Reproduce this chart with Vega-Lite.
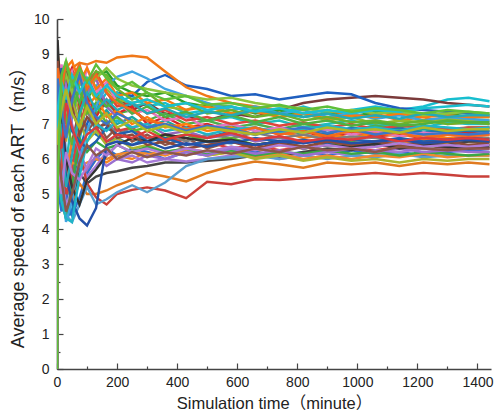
{"$schema":"https://vega.github.io/schema/vega-lite/v6.json","width":434,"height":350,"autosize":{"type":"none"},"padding":{"left":57,"top":19,"right":4,"bottom":49},
"config":{"view":{"stroke":null},"font":"Liberation Sans","axis":{"grid":false,"domainColor":"#444444","domainWidth":1.6,"tickColor":"#444444","tickWidth":1.2,"labelFontSize":14,"labelColor":"#222222","titleColor":"#222222","titleFontSize":16.5,"titleFontWeight":"normal","titleFont":"Liberation Sans, Noto Sans CJK SC","labelFont":"Liberation Sans","labelFlush":false,"labelOverlap":false,"format":"d"}},
"data":{"values":[
{"s":1,"t":0,"v":0},{"s":1,"t":2,"v":6.2},{"s":1,"t":15,"v":5.0},{"s":1,"t":30,"v":4.3},{"s":1,"t":50,"v":4.5},{"s":1,"t":75,"v":6.5},{"s":1,"t":100,"v":7.8},{"s":1,"t":130,"v":7.4},{"s":1,"t":165,"v":7.9},{"s":1,"t":200,"v":7.6},{"s":1,"t":250,"v":7.8},{"s":1,"t":300,"v":7.5},{"s":1,"t":360,"v":7.6},{"s":1,"t":430,"v":7.3},{"s":1,"t":500,"v":7.4},{"s":1,"t":580,"v":7.2},{"s":1,"t":660,"v":7.4},{"s":1,"t":740,"v":7.3},{"s":1,"t":820,"v":7.5},{"s":1,"t":900,"v":7.3},{"s":1,"t":980,"v":7.4},{"s":1,"t":1060,"v":7.5},{"s":1,"t":1140,"v":7.4},{"s":1,"t":1220,"v":7.5},{"s":1,"t":1300,"v":7.7},{"s":1,"t":1370,"v":7.75},{"s":1,"t":1440,"v":7.65},
{"s":2,"t":0,"v":0},{"s":2,"t":2,"v":8.0},{"s":2,"t":15,"v":8.6},{"s":2,"t":30,"v":7.8},{"s":2,"t":50,"v":8.5},{"s":2,"t":75,"v":7.6},{"s":2,"t":100,"v":8.2},{"s":2,"t":130,"v":7.9},{"s":2,"t":165,"v":7.6},{"s":2,"t":200,"v":7.8},{"s":2,"t":250,"v":7.4},{"s":2,"t":300,"v":7.6},{"s":2,"t":360,"v":7.3},{"s":2,"t":430,"v":7.2},{"s":2,"t":500,"v":7.1},{"s":2,"t":580,"v":7.3},{"s":2,"t":660,"v":7.2},{"s":2,"t":740,"v":7.4},{"s":2,"t":820,"v":7.6},{"s":2,"t":900,"v":7.7},{"s":2,"t":980,"v":7.75},{"s":2,"t":1060,"v":7.8},{"s":2,"t":1140,"v":7.75},{"s":2,"t":1220,"v":7.7},{"s":2,"t":1300,"v":7.6},{"s":2,"t":1370,"v":7.55},{"s":2,"t":1440,"v":7.5},
{"s":3,"t":0,"v":0},{"s":3,"t":2,"v":7.0},{"s":3,"t":15,"v":8.3},{"s":3,"t":30,"v":6.0},{"s":3,"t":50,"v":5.0},{"s":3,"t":75,"v":6.2},{"s":3,"t":100,"v":7.0},{"s":3,"t":130,"v":7.6},{"s":3,"t":165,"v":7.5},{"s":3,"t":200,"v":7.9},{"s":3,"t":250,"v":7.8},{"s":3,"t":300,"v":8.2},{"s":3,"t":360,"v":8.4},{"s":3,"t":430,"v":8.1},{"s":3,"t":500,"v":8.0},{"s":3,"t":580,"v":7.8},{"s":3,"t":660,"v":7.85},{"s":3,"t":740,"v":7.7},{"s":3,"t":820,"v":7.8},{"s":3,"t":900,"v":7.9},{"s":3,"t":980,"v":7.85},{"s":3,"t":1060,"v":7.6},{"s":3,"t":1140,"v":7.45},{"s":3,"t":1220,"v":7.4},{"s":3,"t":1300,"v":7.35},{"s":3,"t":1370,"v":7.3},{"s":3,"t":1440,"v":7.25},
{"s":4,"t":0,"v":0},{"s":4,"t":2,"v":7.5},{"s":4,"t":15,"v":8.3},{"s":4,"t":30,"v":8.0},{"s":4,"t":50,"v":8.6},{"s":4,"t":75,"v":8.75},{"s":4,"t":100,"v":8.7},{"s":4,"t":130,"v":8.8},{"s":4,"t":165,"v":8.75},{"s":4,"t":200,"v":8.9},{"s":4,"t":250,"v":8.95},{"s":4,"t":300,"v":8.9},{"s":4,"t":360,"v":8.5},{"s":4,"t":430,"v":8.05},{"s":4,"t":500,"v":7.8},{"s":4,"t":580,"v":7.6},{"s":4,"t":660,"v":7.5},{"s":4,"t":740,"v":7.4},{"s":4,"t":820,"v":7.3},{"s":4,"t":900,"v":7.4},{"s":4,"t":980,"v":7.2},{"s":4,"t":1060,"v":7.3},{"s":4,"t":1140,"v":7.1},{"s":4,"t":1220,"v":7.2},{"s":4,"t":1300,"v":7.0},{"s":4,"t":1370,"v":7.05},{"s":4,"t":1440,"v":7.0},
{"s":5,"t":0,"v":0},{"s":5,"t":2,"v":8.1},{"s":5,"t":15,"v":7.5},{"s":5,"t":30,"v":8.3},{"s":5,"t":50,"v":7.2},{"s":5,"t":75,"v":8.0},{"s":5,"t":100,"v":7.6},{"s":5,"t":130,"v":8.4},{"s":5,"t":165,"v":8.5},{"s":5,"t":200,"v":8.1},{"s":5,"t":250,"v":7.9},{"s":5,"t":300,"v":7.8},{"s":5,"t":360,"v":7.9},{"s":5,"t":430,"v":7.6},{"s":5,"t":500,"v":7.5},{"s":5,"t":580,"v":7.5},{"s":5,"t":660,"v":7.3},{"s":5,"t":740,"v":7.4},{"s":5,"t":820,"v":7.2},{"s":5,"t":900,"v":7.3},{"s":5,"t":980,"v":7.2},{"s":5,"t":1060,"v":7.35},{"s":5,"t":1140,"v":7.3},{"s":5,"t":1220,"v":7.25},{"s":5,"t":1300,"v":7.3},{"s":5,"t":1370,"v":7.2},{"s":5,"t":1440,"v":7.2},
{"s":6,"t":0,"v":0},{"s":6,"t":2,"v":6.8},{"s":6,"t":15,"v":7.9},{"s":6,"t":30,"v":8.5},{"s":6,"t":50,"v":8.0},{"s":6,"t":75,"v":7.3},{"s":6,"t":100,"v":8.1},{"s":6,"t":130,"v":7.7},{"s":6,"t":165,"v":8.0},{"s":6,"t":200,"v":7.7},{"s":6,"t":250,"v":7.6},{"s":6,"t":300,"v":7.7},{"s":6,"t":360,"v":7.5},{"s":6,"t":430,"v":7.4},{"s":6,"t":500,"v":7.6},{"s":6,"t":580,"v":7.3},{"s":6,"t":660,"v":7.4},{"s":6,"t":740,"v":7.2},{"s":6,"t":820,"v":7.3},{"s":6,"t":900,"v":7.1},{"s":6,"t":980,"v":7.2},{"s":6,"t":1060,"v":7.0},{"s":6,"t":1140,"v":7.1},{"s":6,"t":1220,"v":7.05},{"s":6,"t":1300,"v":7.15},{"s":6,"t":1370,"v":7.1},{"s":6,"t":1440,"v":7.1},
{"s":7,"t":0,"v":0},{"s":7,"t":2,"v":5.5},{"s":7,"t":15,"v":4.6},{"s":7,"t":30,"v":5.8},{"s":7,"t":50,"v":7.2},{"s":7,"t":75,"v":8.2},{"s":7,"t":100,"v":7.8},{"s":7,"t":130,"v":8.1},{"s":7,"t":165,"v":7.6},{"s":7,"t":200,"v":7.9},{"s":7,"t":250,"v":7.5},{"s":7,"t":300,"v":7.6},{"s":7,"t":360,"v":7.2},{"s":7,"t":430,"v":7.3},{"s":7,"t":500,"v":7.1},{"s":7,"t":580,"v":7.2},{"s":7,"t":660,"v":7.0},{"s":7,"t":740,"v":7.1},{"s":7,"t":820,"v":6.9},{"s":7,"t":900,"v":7.0},{"s":7,"t":980,"v":7.1},{"s":7,"t":1060,"v":6.95},{"s":7,"t":1140,"v":7.0},{"s":7,"t":1220,"v":6.9},{"s":7,"t":1300,"v":7.05},{"s":7,"t":1370,"v":7.0},{"s":7,"t":1440,"v":7.0},
{"s":8,"t":0,"v":0},{"s":8,"t":2,"v":6.0},{"s":8,"t":15,"v":7.2},{"s":8,"t":30,"v":8.4},{"s":8,"t":50,"v":7.6},{"s":8,"t":75,"v":8.3},{"s":8,"t":100,"v":7.9},{"s":8,"t":130,"v":7.3},{"s":8,"t":165,"v":7.6},{"s":8,"t":200,"v":7.3},{"s":8,"t":250,"v":7.4},{"s":8,"t":300,"v":7.1},{"s":8,"t":360,"v":7.3},{"s":8,"t":430,"v":7.0},{"s":8,"t":500,"v":7.1},{"s":8,"t":580,"v":6.9},{"s":8,"t":660,"v":7.0},{"s":8,"t":740,"v":6.85},{"s":8,"t":820,"v":7.0},{"s":8,"t":900,"v":6.9},{"s":8,"t":980,"v":6.8},{"s":8,"t":1060,"v":6.95},{"s":8,"t":1140,"v":6.85},{"s":8,"t":1220,"v":6.9},{"s":8,"t":1300,"v":6.8},{"s":8,"t":1370,"v":6.9},{"s":8,"t":1440,"v":6.9},
{"s":9,"t":0,"v":0},{"s":9,"t":2,"v":7.2},{"s":9,"t":15,"v":6.0},{"s":9,"t":30,"v":4.8},{"s":9,"t":50,"v":5.5},{"s":9,"t":75,"v":6.8},{"s":9,"t":100,"v":7.5},{"s":9,"t":130,"v":7.1},{"s":9,"t":165,"v":7.4},{"s":9,"t":200,"v":7.0},{"s":9,"t":250,"v":7.2},{"s":9,"t":300,"v":6.9},{"s":9,"t":360,"v":7.1},{"s":9,"t":430,"v":6.8},{"s":9,"t":500,"v":6.9},{"s":9,"t":580,"v":7.0},{"s":9,"t":660,"v":6.8},{"s":9,"t":740,"v":6.9},{"s":9,"t":820,"v":6.7},{"s":9,"t":900,"v":6.85},{"s":9,"t":980,"v":6.75},{"s":9,"t":1060,"v":6.8},{"s":9,"t":1140,"v":6.7},{"s":9,"t":1220,"v":6.85},{"s":9,"t":1300,"v":6.75},{"s":9,"t":1370,"v":6.8},{"s":9,"t":1440,"v":6.8},
{"s":10,"t":0,"v":0},{"s":10,"t":2,"v":8.5},{"s":10,"t":15,"v":7.6},{"s":10,"t":30,"v":8.2},{"s":10,"t":50,"v":8.6},{"s":10,"t":75,"v":7.5},{"s":10,"t":100,"v":7.9},{"s":10,"t":130,"v":7.2},{"s":10,"t":165,"v":7.7},{"s":10,"t":200,"v":7.3},{"s":10,"t":250,"v":7.5},{"s":10,"t":300,"v":7.0},{"s":10,"t":360,"v":7.2},{"s":10,"t":430,"v":6.9},{"s":10,"t":500,"v":7.0},{"s":10,"t":580,"v":6.8},{"s":10,"t":660,"v":6.9},{"s":10,"t":740,"v":6.7},{"s":10,"t":820,"v":6.8},{"s":10,"t":900,"v":6.6},{"s":10,"t":980,"v":6.75},{"s":10,"t":1060,"v":6.65},{"s":10,"t":1140,"v":6.7},{"s":10,"t":1220,"v":6.6},{"s":10,"t":1300,"v":6.7},{"s":10,"t":1370,"v":6.75},{"s":10,"t":1440,"v":6.7},
{"s":11,"t":0,"v":0},{"s":11,"t":2,"v":9.0},{"s":11,"t":15,"v":8.2},{"s":11,"t":30,"v":8.7},{"s":11,"t":50,"v":7.8},{"s":11,"t":75,"v":8.4},{"s":11,"t":100,"v":7.5},{"s":11,"t":130,"v":7.8},{"s":11,"t":165,"v":7.2},{"s":11,"t":200,"v":7.4},{"s":11,"t":250,"v":7.0},{"s":11,"t":300,"v":7.2},{"s":11,"t":360,"v":6.9},{"s":11,"t":430,"v":7.0},{"s":11,"t":500,"v":6.8},{"s":11,"t":580,"v":6.9},{"s":11,"t":660,"v":6.7},{"s":11,"t":740,"v":6.8},{"s":11,"t":820,"v":6.6},{"s":11,"t":900,"v":6.7},{"s":11,"t":980,"v":6.6},{"s":11,"t":1060,"v":6.75},{"s":11,"t":1140,"v":6.65},{"s":11,"t":1220,"v":6.7},{"s":11,"t":1300,"v":6.6},{"s":11,"t":1370,"v":6.65},{"s":11,"t":1440,"v":6.6},
{"s":12,"t":0,"v":0},{"s":12,"t":2,"v":6.5},{"s":12,"t":15,"v":5.2},{"s":12,"t":30,"v":4.5},{"s":12,"t":50,"v":4.4},{"s":12,"t":75,"v":5.8},{"s":12,"t":100,"v":6.9},{"s":12,"t":130,"v":6.7},{"s":12,"t":165,"v":6.5},{"s":12,"t":200,"v":6.6},{"s":12,"t":250,"v":6.4},{"s":12,"t":300,"v":6.6},{"s":12,"t":360,"v":6.5},{"s":12,"t":430,"v":6.7},{"s":12,"t":500,"v":6.6},{"s":12,"t":580,"v":6.8},{"s":12,"t":660,"v":6.7},{"s":12,"t":740,"v":6.9},{"s":12,"t":820,"v":6.8},{"s":12,"t":900,"v":6.7},{"s":12,"t":980,"v":6.9},{"s":12,"t":1060,"v":6.8},{"s":12,"t":1140,"v":6.9},{"s":12,"t":1220,"v":6.75},{"s":12,"t":1300,"v":6.85},{"s":12,"t":1370,"v":6.8},{"s":12,"t":1440,"v":6.8},
{"s":13,"t":0,"v":0},{"s":13,"t":2,"v":7.8},{"s":13,"t":15,"v":8.5},{"s":13,"t":30,"v":7.5},{"s":13,"t":50,"v":8.3},{"s":13,"t":75,"v":8.6},{"s":13,"t":100,"v":7.9},{"s":13,"t":130,"v":8.3},{"s":13,"t":165,"v":7.5},{"s":13,"t":200,"v":7.2},{"s":13,"t":250,"v":6.9},{"s":13,"t":300,"v":7.0},{"s":13,"t":360,"v":6.7},{"s":13,"t":430,"v":6.8},{"s":13,"t":500,"v":6.6},{"s":13,"t":580,"v":6.7},{"s":13,"t":660,"v":6.5},{"s":13,"t":740,"v":6.6},{"s":13,"t":820,"v":6.45},{"s":13,"t":900,"v":6.55},{"s":13,"t":980,"v":6.4},{"s":13,"t":1060,"v":6.5},{"s":13,"t":1140,"v":6.45},{"s":13,"t":1220,"v":6.55},{"s":13,"t":1300,"v":6.45},{"s":13,"t":1370,"v":6.5},{"s":13,"t":1440,"v":6.5},
{"s":14,"t":0,"v":0},{"s":14,"t":2,"v":7.0},{"s":14,"t":15,"v":6.2},{"s":14,"t":30,"v":5.3},{"s":14,"t":50,"v":6.5},{"s":14,"t":75,"v":7.4},{"s":14,"t":100,"v":6.8},{"s":14,"t":130,"v":7.1},{"s":14,"t":165,"v":6.6},{"s":14,"t":200,"v":6.9},{"s":14,"t":250,"v":6.5},{"s":14,"t":300,"v":6.7},{"s":14,"t":360,"v":6.4},{"s":14,"t":430,"v":6.6},{"s":14,"t":500,"v":6.3},{"s":14,"t":580,"v":6.5},{"s":14,"t":660,"v":6.4},{"s":14,"t":740,"v":6.5},{"s":14,"t":820,"v":6.35},{"s":14,"t":900,"v":6.45},{"s":14,"t":980,"v":6.3},{"s":14,"t":1060,"v":6.4},{"s":14,"t":1140,"v":6.35},{"s":14,"t":1220,"v":6.4},{"s":14,"t":1300,"v":6.3},{"s":14,"t":1370,"v":6.4},{"s":14,"t":1440,"v":6.4},
{"s":15,"t":0,"v":0},{"s":15,"t":2,"v":7.6},{"s":15,"t":15,"v":8.0},{"s":15,"t":30,"v":7.0},{"s":15,"t":50,"v":7.8},{"s":15,"t":75,"v":7.0},{"s":15,"t":100,"v":7.4},{"s":15,"t":130,"v":6.8},{"s":15,"t":165,"v":7.1},{"s":15,"t":200,"v":6.7},{"s":15,"t":250,"v":6.9},{"s":15,"t":300,"v":6.5},{"s":15,"t":360,"v":6.7},{"s":15,"t":430,"v":6.5},{"s":15,"t":500,"v":6.7},{"s":15,"t":580,"v":6.6},{"s":15,"t":660,"v":6.75},{"s":15,"t":740,"v":6.6},{"s":15,"t":820,"v":6.7},{"s":15,"t":900,"v":6.55},{"s":15,"t":980,"v":6.65},{"s":15,"t":1060,"v":6.6},{"s":15,"t":1140,"v":6.5},{"s":15,"t":1220,"v":6.6},{"s":15,"t":1300,"v":6.55},{"s":15,"t":1370,"v":6.6},{"s":15,"t":1440,"v":6.6},
{"s":16,"t":0,"v":0},{"s":16,"t":2,"v":8.2},{"s":16,"t":15,"v":8.7},{"s":16,"t":30,"v":8.0},{"s":16,"t":50,"v":8.5},{"s":16,"t":75,"v":7.7},{"s":16,"t":100,"v":8.6},{"s":16,"t":130,"v":7.9},{"s":16,"t":165,"v":8.2},{"s":16,"t":200,"v":7.6},{"s":16,"t":250,"v":7.3},{"s":16,"t":300,"v":7.4},{"s":16,"t":360,"v":7.1},{"s":16,"t":430,"v":7.2},{"s":16,"t":500,"v":6.9},{"s":16,"t":580,"v":7.0},{"s":16,"t":660,"v":6.8},{"s":16,"t":740,"v":6.9},{"s":16,"t":820,"v":6.75},{"s":16,"t":900,"v":6.85},{"s":16,"t":980,"v":6.7},{"s":16,"t":1060,"v":6.8},{"s":16,"t":1140,"v":6.65},{"s":16,"t":1220,"v":6.75},{"s":16,"t":1300,"v":6.7},{"s":16,"t":1370,"v":6.65},{"s":16,"t":1440,"v":6.7},
{"s":17,"t":0,"v":0},{"s":17,"t":2,"v":5.8},{"s":17,"t":15,"v":4.9},{"s":17,"t":30,"v":5.6},{"s":17,"t":50,"v":6.5},{"s":17,"t":75,"v":6.0},{"s":17,"t":100,"v":5.6},{"s":17,"t":130,"v":6.0},{"s":17,"t":165,"v":5.9},{"s":17,"t":200,"v":6.1},{"s":17,"t":250,"v":6.0},{"s":17,"t":300,"v":6.2},{"s":17,"t":360,"v":6.1},{"s":17,"t":430,"v":6.3},{"s":17,"t":500,"v":6.2},{"s":17,"t":580,"v":6.35},{"s":17,"t":660,"v":6.2},{"s":17,"t":740,"v":6.4},{"s":17,"t":820,"v":6.3},{"s":17,"t":900,"v":6.45},{"s":17,"t":980,"v":6.35},{"s":17,"t":1060,"v":6.5},{"s":17,"t":1140,"v":6.4},{"s":17,"t":1220,"v":6.55},{"s":17,"t":1300,"v":6.45},{"s":17,"t":1370,"v":6.5},{"s":17,"t":1440,"v":6.5},
{"s":18,"t":0,"v":0},{"s":18,"t":2,"v":6.8},{"s":18,"t":15,"v":5.5},{"s":18,"t":30,"v":4.9},{"s":18,"t":50,"v":5.8},{"s":18,"t":75,"v":6.9},{"s":18,"t":100,"v":7.7},{"s":18,"t":130,"v":7.0},{"s":18,"t":165,"v":7.3},{"s":18,"t":200,"v":6.8},{"s":18,"t":250,"v":6.9},{"s":18,"t":300,"v":6.6},{"s":18,"t":360,"v":6.7},{"s":18,"t":430,"v":6.4},{"s":18,"t":500,"v":6.5},{"s":18,"t":580,"v":6.3},{"s":18,"t":660,"v":6.4},{"s":18,"t":740,"v":6.25},{"s":18,"t":820,"v":6.35},{"s":18,"t":900,"v":6.2},{"s":18,"t":980,"v":6.3},{"s":18,"t":1060,"v":6.25},{"s":18,"t":1140,"v":6.35},{"s":18,"t":1220,"v":6.3},{"s":18,"t":1300,"v":6.25},{"s":18,"t":1370,"v":6.3},{"s":18,"t":1440,"v":6.3},
{"s":19,"t":0,"v":0},{"s":19,"t":2,"v":5.2},{"s":19,"t":15,"v":4.5},{"s":19,"t":30,"v":5.0},{"s":19,"t":50,"v":4.4},{"s":19,"t":75,"v":4.9},{"s":19,"t":100,"v":5.6},{"s":19,"t":130,"v":6.0},{"s":19,"t":165,"v":6.3},{"s":19,"t":200,"v":6.1},{"s":19,"t":250,"v":6.3},{"s":19,"t":300,"v":6.2},{"s":19,"t":360,"v":6.0},{"s":19,"t":430,"v":6.2},{"s":19,"t":500,"v":6.1},{"s":19,"t":580,"v":6.3},{"s":19,"t":660,"v":6.2},{"s":19,"t":740,"v":6.1},{"s":19,"t":820,"v":6.2},{"s":19,"t":900,"v":6.1},{"s":19,"t":980,"v":6.25},{"s":19,"t":1060,"v":6.15},{"s":19,"t":1140,"v":6.2},{"s":19,"t":1220,"v":6.1},{"s":19,"t":1300,"v":6.2},{"s":19,"t":1370,"v":6.25},{"s":19,"t":1440,"v":6.2},
{"s":20,"t":0,"v":0},{"s":20,"t":2,"v":7.4},{"s":20,"t":15,"v":8.1},{"s":20,"t":30,"v":8.6},{"s":20,"t":50,"v":7.4},{"s":20,"t":75,"v":8.0},{"s":20,"t":100,"v":7.3},{"s":20,"t":130,"v":7.6},{"s":20,"t":165,"v":7.0},{"s":20,"t":200,"v":7.2},{"s":20,"t":250,"v":6.8},{"s":20,"t":300,"v":6.9},{"s":20,"t":360,"v":6.6},{"s":20,"t":430,"v":6.7},{"s":20,"t":500,"v":6.5},{"s":20,"t":580,"v":6.6},{"s":20,"t":660,"v":6.4},{"s":20,"t":740,"v":6.5},{"s":20,"t":820,"v":6.3},{"s":20,"t":900,"v":6.4},{"s":20,"t":980,"v":6.5},{"s":20,"t":1060,"v":6.35},{"s":20,"t":1140,"v":6.45},{"s":20,"t":1220,"v":6.35},{"s":20,"t":1300,"v":6.4},{"s":20,"t":1370,"v":6.35},{"s":20,"t":1440,"v":6.4},
{"s":21,"t":0,"v":0},{"s":21,"t":2,"v":6.0},{"s":21,"t":15,"v":5.0},{"s":21,"t":30,"v":4.6},{"s":21,"t":50,"v":4.9},{"s":21,"t":75,"v":5.6},{"s":21,"t":100,"v":5.3},{"s":21,"t":130,"v":5.5},{"s":21,"t":165,"v":5.6},{"s":21,"t":200,"v":5.65},{"s":21,"t":250,"v":5.75},{"s":21,"t":300,"v":5.8},{"s":21,"t":360,"v":5.9},{"s":21,"t":430,"v":5.9},{"s":21,"t":500,"v":5.95},{"s":21,"t":580,"v":6.0},{"s":21,"t":660,"v":6.1},{"s":21,"t":740,"v":6.05},{"s":21,"t":820,"v":6.2},{"s":21,"t":900,"v":6.3},{"s":21,"t":980,"v":6.25},{"s":21,"t":1060,"v":6.4},{"s":21,"t":1140,"v":6.35},{"s":21,"t":1220,"v":6.45},{"s":21,"t":1300,"v":6.4},{"s":21,"t":1370,"v":6.5},{"s":21,"t":1440,"v":6.5},
{"s":22,"t":0,"v":0},{"s":22,"t":2,"v":6.3},{"s":22,"t":15,"v":5.6},{"s":22,"t":30,"v":4.7},{"s":22,"t":50,"v":5.1},{"s":22,"t":75,"v":5.9},{"s":22,"t":100,"v":5.5},{"s":22,"t":130,"v":5.8},{"s":22,"t":165,"v":6.2},{"s":22,"t":200,"v":6.0},{"s":22,"t":250,"v":6.1},{"s":22,"t":300,"v":5.9},{"s":22,"t":360,"v":6.0},{"s":22,"t":430,"v":5.93},{"s":22,"t":500,"v":6.0},{"s":22,"t":580,"v":6.1},{"s":22,"t":660,"v":6.15},{"s":22,"t":740,"v":6.0},{"s":22,"t":820,"v":6.1},{"s":22,"t":900,"v":6.2},{"s":22,"t":980,"v":6.1},{"s":22,"t":1060,"v":6.25},{"s":22,"t":1140,"v":6.2},{"s":22,"t":1220,"v":6.3},{"s":22,"t":1300,"v":6.25},{"s":22,"t":1370,"v":6.3},{"s":22,"t":1440,"v":6.3},
{"s":23,"t":0,"v":0},{"s":23,"t":2,"v":5.5},{"s":23,"t":15,"v":6.3},{"s":23,"t":30,"v":5.4},{"s":23,"t":50,"v":4.8},{"s":23,"t":75,"v":5.3},{"s":23,"t":100,"v":5.0},{"s":23,"t":130,"v":5.0},{"s":23,"t":165,"v":5.1},{"s":23,"t":200,"v":5.25},{"s":23,"t":250,"v":5.4},{"s":23,"t":300,"v":5.6},{"s":23,"t":360,"v":5.5},{"s":23,"t":430,"v":5.36},{"s":23,"t":500,"v":5.6},{"s":23,"t":580,"v":5.8},{"s":23,"t":660,"v":5.93},{"s":23,"t":740,"v":5.85},{"s":23,"t":820,"v":5.75},{"s":23,"t":900,"v":5.9},{"s":23,"t":980,"v":5.85},{"s":23,"t":1060,"v":5.9},{"s":23,"t":1140,"v":5.8},{"s":23,"t":1220,"v":5.9},{"s":23,"t":1300,"v":5.85},{"s":23,"t":1370,"v":5.9},{"s":23,"t":1440,"v":5.85},
{"s":24,"t":0,"v":0},{"s":24,"t":2,"v":7.2},{"s":24,"t":15,"v":6.0},{"s":24,"t":30,"v":5.0},{"s":24,"t":50,"v":5.5},{"s":24,"t":75,"v":6.2},{"s":24,"t":100,"v":5.3},{"s":24,"t":130,"v":4.9},{"s":24,"t":165,"v":4.7},{"s":24,"t":200,"v":5.0},{"s":24,"t":250,"v":5.12},{"s":24,"t":300,"v":5.19},{"s":24,"t":360,"v":5.1},{"s":24,"t":430,"v":4.88},{"s":24,"t":500,"v":5.35},{"s":24,"t":580,"v":5.28},{"s":24,"t":660,"v":5.42},{"s":24,"t":740,"v":5.4},{"s":24,"t":820,"v":5.45},{"s":24,"t":900,"v":5.5},{"s":24,"t":980,"v":5.55},{"s":24,"t":1060,"v":5.6},{"s":24,"t":1140,"v":5.55},{"s":24,"t":1220,"v":5.6},{"s":24,"t":1300,"v":5.55},{"s":24,"t":1370,"v":5.5},{"s":24,"t":1440,"v":5.5},
{"s":25,"t":0,"v":0},{"s":25,"t":2,"v":6.4},{"s":25,"t":15,"v":5.3},{"s":25,"t":30,"v":4.4},{"s":25,"t":50,"v":4.2},{"s":25,"t":75,"v":4.7},{"s":25,"t":100,"v":5.2},{"s":25,"t":130,"v":4.7},{"s":25,"t":165,"v":4.85},{"s":25,"t":200,"v":5.05},{"s":25,"t":250,"v":5.25},{"s":25,"t":300,"v":5.05},{"s":25,"t":360,"v":5.33},{"s":25,"t":430,"v":5.8},{"s":25,"t":500,"v":6.0},{"s":25,"t":580,"v":6.05},{"s":25,"t":660,"v":6.1},{"s":25,"t":740,"v":6.0},{"s":25,"t":820,"v":6.1},{"s":25,"t":900,"v":6.0},{"s":25,"t":980,"v":6.1},{"s":25,"t":1060,"v":6.05},{"s":25,"t":1140,"v":6.15},{"s":25,"t":1220,"v":6.05},{"s":25,"t":1300,"v":6.1},{"s":25,"t":1370,"v":6.1},{"s":25,"t":1440,"v":6.1},
{"s":26,"t":0,"v":0},{"s":26,"t":2,"v":6.6},{"s":26,"t":15,"v":7.5},{"s":26,"t":30,"v":5.5},{"s":26,"t":50,"v":5.9},{"s":26,"t":75,"v":5.8},{"s":26,"t":100,"v":5.9},{"s":26,"t":130,"v":6.0},{"s":26,"t":165,"v":6.0},{"s":26,"t":200,"v":6.13},{"s":26,"t":250,"v":6.2},{"s":26,"t":300,"v":6.15},{"s":26,"t":360,"v":6.13},{"s":26,"t":430,"v":6.25},{"s":26,"t":500,"v":6.1},{"s":26,"t":580,"v":6.2},{"s":26,"t":660,"v":6.05},{"s":26,"t":740,"v":6.15},{"s":26,"t":820,"v":6.0},{"s":26,"t":900,"v":6.1},{"s":26,"t":980,"v":6.0},{"s":26,"t":1060,"v":6.1},{"s":26,"t":1140,"v":6.05},{"s":26,"t":1220,"v":6.15},{"s":26,"t":1300,"v":6.05},{"s":26,"t":1370,"v":6.1},{"s":26,"t":1440,"v":6.1},
{"s":27,"t":0,"v":0},{"s":27,"t":2,"v":8.0},{"s":27,"t":15,"v":7.4},{"s":27,"t":30,"v":6.5},{"s":27,"t":50,"v":7.6},{"s":27,"t":75,"v":7.1},{"s":27,"t":100,"v":6.5},{"s":27,"t":130,"v":6.8},{"s":27,"t":165,"v":6.4},{"s":27,"t":200,"v":6.6},{"s":27,"t":250,"v":6.3},{"s":27,"t":300,"v":6.4},{"s":27,"t":360,"v":6.2},{"s":27,"t":430,"v":6.3},{"s":27,"t":500,"v":6.1},{"s":27,"t":580,"v":6.2},{"s":27,"t":660,"v":6.0},{"s":27,"t":740,"v":6.1},{"s":27,"t":820,"v":5.95},{"s":27,"t":900,"v":6.05},{"s":27,"t":980,"v":5.95},{"s":27,"t":1060,"v":6.0},{"s":27,"t":1140,"v":5.9},{"s":27,"t":1220,"v":6.0},{"s":27,"t":1300,"v":5.95},{"s":27,"t":1370,"v":6.0},{"s":27,"t":1440,"v":6.0},
{"s":28,"t":0,"v":0},{"s":28,"t":2,"v":5.9},{"s":28,"t":15,"v":4.8},{"s":28,"t":30,"v":4.3},{"s":28,"t":50,"v":5.2},{"s":28,"t":75,"v":6.6},{"s":28,"t":100,"v":6.2},{"s":28,"t":130,"v":6.5},{"s":28,"t":165,"v":6.3},{"s":28,"t":200,"v":6.4},{"s":28,"t":250,"v":6.2},{"s":28,"t":300,"v":6.35},{"s":28,"t":360,"v":6.2},{"s":28,"t":430,"v":6.3},{"s":28,"t":500,"v":6.15},{"s":28,"t":580,"v":6.25},{"s":28,"t":660,"v":6.1},{"s":28,"t":740,"v":6.2},{"s":28,"t":820,"v":6.15},{"s":28,"t":900,"v":6.25},{"s":28,"t":980,"v":6.15},{"s":28,"t":1060,"v":6.2},{"s":28,"t":1140,"v":6.1},{"s":28,"t":1220,"v":6.2},{"s":28,"t":1300,"v":6.15},{"s":28,"t":1370,"v":6.1},{"s":28,"t":1440,"v":6.15},
{"s":29,"t":0,"v":0},{"s":29,"t":2,"v":6.6},{"s":29,"t":15,"v":5.7},{"s":29,"t":30,"v":4.2},{"s":29,"t":50,"v":4.8},{"s":29,"t":75,"v":6.0},{"s":29,"t":100,"v":6.8},{"s":29,"t":130,"v":7.5},{"s":29,"t":165,"v":8.1},{"s":29,"t":200,"v":8.35},{"s":29,"t":250,"v":8.5},{"s":29,"t":300,"v":8.3},{"s":29,"t":360,"v":8.0},{"s":29,"t":430,"v":7.8},{"s":29,"t":500,"v":7.6},{"s":29,"t":580,"v":7.4},{"s":29,"t":660,"v":7.5},{"s":29,"t":740,"v":7.3},{"s":29,"t":820,"v":7.4},{"s":29,"t":900,"v":7.2},{"s":29,"t":980,"v":7.3},{"s":29,"t":1060,"v":7.15},{"s":29,"t":1140,"v":7.25},{"s":29,"t":1220,"v":7.1},{"s":29,"t":1300,"v":7.2},{"s":29,"t":1370,"v":7.15},{"s":29,"t":1440,"v":7.1},
{"s":30,"t":0,"v":0},{"s":30,"t":2,"v":7.3},{"s":30,"t":15,"v":8.6},{"s":30,"t":30,"v":7.6},{"s":30,"t":50,"v":6.8},{"s":30,"t":75,"v":6.5},{"s":30,"t":100,"v":6.3},{"s":30,"t":130,"v":6.5},{"s":30,"t":165,"v":6.9},{"s":30,"t":200,"v":6.7},{"s":30,"t":250,"v":6.8},{"s":30,"t":300,"v":6.5},{"s":30,"t":360,"v":6.6},{"s":30,"t":430,"v":6.4},{"s":30,"t":500,"v":6.5},{"s":30,"t":580,"v":6.45},{"s":30,"t":660,"v":6.6},{"s":30,"t":740,"v":6.5},{"s":30,"t":820,"v":6.55},{"s":30,"t":900,"v":6.45},{"s":30,"t":980,"v":6.55},{"s":30,"t":1060,"v":6.5},{"s":30,"t":1140,"v":6.6},{"s":30,"t":1220,"v":6.5},{"s":30,"t":1300,"v":6.55},{"s":30,"t":1370,"v":6.6},{"s":30,"t":1440,"v":6.55},
{"s":31,"t":0,"v":0},{"s":31,"t":2,"v":6.2},{"s":31,"t":15,"v":7.8},{"s":31,"t":30,"v":8.6},{"s":31,"t":50,"v":8.8},{"s":31,"t":75,"v":8.2},{"s":31,"t":100,"v":8.6},{"s":31,"t":130,"v":8.0},{"s":31,"t":165,"v":8.3},{"s":31,"t":200,"v":7.8},{"s":31,"t":250,"v":7.9},{"s":31,"t":300,"v":7.6},{"s":31,"t":360,"v":7.7},{"s":31,"t":430,"v":7.4},{"s":31,"t":500,"v":7.5},{"s":31,"t":580,"v":7.3},{"s":31,"t":660,"v":7.35},{"s":31,"t":740,"v":7.2},{"s":31,"t":820,"v":7.3},{"s":31,"t":900,"v":7.15},{"s":31,"t":980,"v":7.25},{"s":31,"t":1060,"v":7.2},{"s":31,"t":1140,"v":7.3},{"s":31,"t":1220,"v":7.2},{"s":31,"t":1300,"v":7.25},{"s":31,"t":1370,"v":7.2},{"s":31,"t":1440,"v":7.2},
{"s":32,"t":0,"v":0},{"s":32,"t":2,"v":5.0},{"s":32,"t":15,"v":5.8},{"s":32,"t":30,"v":6.9},{"s":32,"t":50,"v":8.1},{"s":32,"t":75,"v":8.6},{"s":32,"t":100,"v":8.2},{"s":32,"t":130,"v":8.5},{"s":32,"t":165,"v":7.9},{"s":32,"t":200,"v":7.5},{"s":32,"t":250,"v":7.6},{"s":32,"t":300,"v":7.3},{"s":32,"t":360,"v":7.4},{"s":32,"t":430,"v":7.1},{"s":32,"t":500,"v":7.2},{"s":32,"t":580,"v":7.0},{"s":32,"t":660,"v":7.1},{"s":32,"t":740,"v":6.95},{"s":32,"t":820,"v":7.05},{"s":32,"t":900,"v":6.9},{"s":32,"t":980,"v":7.0},{"s":32,"t":1060,"v":6.85},{"s":32,"t":1140,"v":6.95},{"s":32,"t":1220,"v":6.9},{"s":32,"t":1300,"v":6.85},{"s":32,"t":1370,"v":6.9},{"s":32,"t":1440,"v":6.9},
{"s":33,"t":0,"v":0},{"s":33,"t":2,"v":7.7},{"s":33,"t":15,"v":8.4},{"s":33,"t":30,"v":7.2},{"s":33,"t":50,"v":6.4},{"s":33,"t":75,"v":7.2},{"s":33,"t":100,"v":8.0},{"s":33,"t":130,"v":8.5},{"s":33,"t":165,"v":8.4},{"s":33,"t":200,"v":8.0},{"s":33,"t":250,"v":7.7},{"s":33,"t":300,"v":7.9},{"s":33,"t":360,"v":7.5},{"s":33,"t":430,"v":7.6},{"s":33,"t":500,"v":7.3},{"s":33,"t":580,"v":7.4},{"s":33,"t":660,"v":7.2},{"s":33,"t":740,"v":7.3},{"s":33,"t":820,"v":7.1},{"s":33,"t":900,"v":7.2},{"s":33,"t":980,"v":7.05},{"s":33,"t":1060,"v":7.1},{"s":33,"t":1140,"v":7.0},{"s":33,"t":1220,"v":7.1},{"s":33,"t":1300,"v":7.0},{"s":33,"t":1370,"v":7.05},{"s":33,"t":1440,"v":7.0},
{"s":34,"t":0,"v":0},{"s":34,"t":2,"v":6.9},{"s":34,"t":15,"v":7.7},{"s":34,"t":30,"v":8.3},{"s":34,"t":50,"v":7.0},{"s":34,"t":75,"v":6.2},{"s":34,"t":100,"v":5.7},{"s":34,"t":130,"v":6.1},{"s":34,"t":165,"v":5.8},{"s":34,"t":200,"v":6.0},{"s":34,"t":250,"v":5.9},{"s":34,"t":300,"v":6.1},{"s":34,"t":360,"v":6.0},{"s":34,"t":430,"v":6.2},{"s":34,"t":500,"v":6.1},{"s":34,"t":580,"v":6.3},{"s":34,"t":660,"v":6.15},{"s":34,"t":740,"v":6.25},{"s":34,"t":820,"v":6.1},{"s":34,"t":900,"v":6.2},{"s":34,"t":980,"v":6.3},{"s":34,"t":1060,"v":6.2},{"s":34,"t":1140,"v":6.3},{"s":34,"t":1220,"v":6.2},{"s":34,"t":1300,"v":6.25},{"s":34,"t":1370,"v":6.2},{"s":34,"t":1440,"v":6.2},
{"s":35,"t":0,"v":0},{"s":35,"t":2,"v":9.4},{"s":35,"t":15,"v":7.0},{"s":35,"t":30,"v":6.0},{"s":35,"t":50,"v":5.2},{"s":35,"t":75,"v":4.7},{"s":35,"t":100,"v":5.4},{"s":35,"t":130,"v":5.7},{"s":35,"t":165,"v":6.1},{"s":35,"t":200,"v":6.4},{"s":35,"t":250,"v":6.6},{"s":35,"t":300,"v":6.5},{"s":35,"t":360,"v":6.7},{"s":35,"t":430,"v":6.6},{"s":35,"t":500,"v":6.5},{"s":35,"t":580,"v":6.55},{"s":35,"t":660,"v":6.4},{"s":35,"t":740,"v":6.5},{"s":35,"t":820,"v":6.3},{"s":35,"t":900,"v":6.4},{"s":35,"t":980,"v":6.35},{"s":35,"t":1060,"v":6.45},{"s":35,"t":1140,"v":6.3},{"s":35,"t":1220,"v":6.4},{"s":35,"t":1300,"v":6.35},{"s":35,"t":1370,"v":6.3},{"s":35,"t":1440,"v":6.35},
{"s":36,"t":0,"v":0},{"s":36,"t":2,"v":8.8},{"s":36,"t":15,"v":7.8},{"s":36,"t":30,"v":8.5},{"s":36,"t":50,"v":7.5},{"s":36,"t":75,"v":6.7},{"s":36,"t":100,"v":7.2},{"s":36,"t":130,"v":6.9},{"s":36,"t":165,"v":7.0},{"s":36,"t":200,"v":6.6},{"s":36,"t":250,"v":6.7},{"s":36,"t":300,"v":6.4},{"s":36,"t":360,"v":6.5},{"s":36,"t":430,"v":6.3},{"s":36,"t":500,"v":6.4},{"s":36,"t":580,"v":6.5},{"s":36,"t":660,"v":6.3},{"s":36,"t":740,"v":6.45},{"s":36,"t":820,"v":6.35},{"s":36,"t":900,"v":6.5},{"s":36,"t":980,"v":6.4},{"s":36,"t":1060,"v":6.5},{"s":36,"t":1140,"v":6.4},{"s":36,"t":1220,"v":6.45},{"s":36,"t":1300,"v":6.5},{"s":36,"t":1370,"v":6.4},{"s":36,"t":1440,"v":6.45},
{"s":37,"t":0,"v":0},{"s":37,"t":2,"v":6.1},{"s":37,"t":15,"v":7.0},{"s":37,"t":30,"v":5.5},{"s":37,"t":50,"v":4.8},{"s":37,"t":75,"v":4.3},{"s":37,"t":100,"v":4.1},{"s":37,"t":130,"v":4.6},{"s":37,"t":165,"v":6.4},{"s":37,"t":200,"v":6.5},{"s":37,"t":250,"v":6.4},{"s":37,"t":300,"v":6.5},{"s":37,"t":360,"v":6.3},{"s":37,"t":430,"v":6.45},{"s":37,"t":500,"v":6.35},{"s":37,"t":580,"v":6.5},{"s":37,"t":660,"v":6.4},{"s":37,"t":740,"v":6.5},{"s":37,"t":820,"v":6.45},{"s":37,"t":900,"v":6.55},{"s":37,"t":980,"v":6.45},{"s":37,"t":1060,"v":6.5},{"s":37,"t":1140,"v":6.55},{"s":37,"t":1220,"v":6.45},{"s":37,"t":1300,"v":6.5},{"s":37,"t":1370,"v":6.55},{"s":37,"t":1440,"v":6.5},
{"s":38,"t":0,"v":0},{"s":38,"t":2,"v":5.6},{"s":38,"t":15,"v":4.8},{"s":38,"t":30,"v":4.3},{"s":38,"t":50,"v":4.2},{"s":38,"t":75,"v":5.5},{"s":38,"t":100,"v":6.5},{"s":38,"t":130,"v":7.0},{"s":38,"t":165,"v":6.8},{"s":38,"t":200,"v":7.1},{"s":38,"t":250,"v":6.9},{"s":38,"t":300,"v":7.0},{"s":38,"t":360,"v":6.8},{"s":38,"t":430,"v":6.9},{"s":38,"t":500,"v":6.7},{"s":38,"t":580,"v":6.85},{"s":38,"t":660,"v":6.9},{"s":38,"t":740,"v":6.75},{"s":38,"t":820,"v":6.85},{"s":38,"t":900,"v":6.95},{"s":38,"t":980,"v":6.85},{"s":38,"t":1060,"v":6.9},{"s":38,"t":1140,"v":6.8},{"s":38,"t":1220,"v":6.95},{"s":38,"t":1300,"v":6.9},{"s":38,"t":1370,"v":6.85},{"s":38,"t":1440,"v":6.9},
{"s":39,"t":0,"v":0},{"s":39,"t":2,"v":7.3},{"s":39,"t":15,"v":8.0},{"s":39,"t":30,"v":8.4},{"s":39,"t":50,"v":7.9},{"s":39,"t":75,"v":8.5},{"s":39,"t":100,"v":8.1},{"s":39,"t":130,"v":8.3},{"s":39,"t":165,"v":8.6},{"s":39,"t":200,"v":8.3},{"s":39,"t":250,"v":8.1},{"s":39,"t":300,"v":8.0},{"s":39,"t":360,"v":7.9},{"s":39,"t":430,"v":7.8},{"s":39,"t":500,"v":7.7},{"s":39,"t":580,"v":7.75},{"s":39,"t":660,"v":7.6},{"s":39,"t":740,"v":7.5},{"s":39,"t":820,"v":7.45},{"s":39,"t":900,"v":7.35},{"s":39,"t":980,"v":7.4},{"s":39,"t":1060,"v":7.3},{"s":39,"t":1140,"v":7.35},{"s":39,"t":1220,"v":7.25},{"s":39,"t":1300,"v":7.3},{"s":39,"t":1370,"v":7.35},{"s":39,"t":1440,"v":7.3},
{"s":40,"t":0,"v":0},{"s":40,"t":2,"v":6.5},{"s":40,"t":15,"v":7.8},{"s":40,"t":30,"v":8.7},{"s":40,"t":50,"v":8.2},{"s":40,"t":75,"v":7.6},{"s":40,"t":100,"v":8.3},{"s":40,"t":130,"v":7.8},{"s":40,"t":165,"v":7.5},{"s":40,"t":200,"v":7.7},{"s":40,"t":250,"v":7.3},{"s":40,"t":300,"v":7.5},{"s":40,"t":360,"v":7.2},{"s":40,"t":430,"v":7.35},{"s":40,"t":500,"v":7.1},{"s":40,"t":580,"v":7.25},{"s":40,"t":660,"v":7.05},{"s":40,"t":740,"v":7.2},{"s":40,"t":820,"v":7.0},{"s":40,"t":900,"v":7.1},{"s":40,"t":980,"v":6.95},{"s":40,"t":1060,"v":7.05},{"s":40,"t":1140,"v":6.95},{"s":40,"t":1220,"v":7.0},{"s":40,"t":1300,"v":7.1},{"s":40,"t":1370,"v":7.05},{"s":40,"t":1440,"v":7.05},
{"s":41,"t":0,"v":0},{"s":41,"t":2,"v":7.9},{"s":41,"t":15,"v":6.6},{"s":41,"t":30,"v":5.2},{"s":41,"t":50,"v":6.1},{"s":41,"t":75,"v":7.3},{"s":41,"t":100,"v":7.9},{"s":41,"t":130,"v":7.4},{"s":41,"t":165,"v":7.7},{"s":41,"t":200,"v":7.4},{"s":41,"t":250,"v":7.6},{"s":41,"t":300,"v":7.3},{"s":41,"t":360,"v":7.45},{"s":41,"t":430,"v":7.2},{"s":41,"t":500,"v":7.35},{"s":41,"t":580,"v":7.25},{"s":41,"t":660,"v":7.4},{"s":41,"t":740,"v":7.3},{"s":41,"t":820,"v":7.2},{"s":41,"t":900,"v":7.3},{"s":41,"t":980,"v":7.15},{"s":41,"t":1060,"v":7.25},{"s":41,"t":1140,"v":7.15},{"s":41,"t":1220,"v":7.3},{"s":41,"t":1300,"v":7.2},{"s":41,"t":1370,"v":7.25},{"s":41,"t":1440,"v":7.25},
{"s":42,"t":0,"v":0},{"s":42,"t":2,"v":8.6},{"s":42,"t":15,"v":7.9},{"s":42,"t":30,"v":8.8},{"s":42,"t":50,"v":8.3},{"s":42,"t":75,"v":8.7},{"s":42,"t":100,"v":8.0},{"s":42,"t":130,"v":8.4},{"s":42,"t":165,"v":7.9},{"s":42,"t":200,"v":7.6},{"s":42,"t":250,"v":7.4},{"s":42,"t":300,"v":7.1},{"s":42,"t":360,"v":7.0},{"s":42,"t":430,"v":6.85},{"s":42,"t":500,"v":6.95},{"s":42,"t":580,"v":6.75},{"s":42,"t":660,"v":6.9},{"s":42,"t":740,"v":6.7},{"s":42,"t":820,"v":6.8},{"s":42,"t":900,"v":6.65},{"s":42,"t":980,"v":6.8},{"s":42,"t":1060,"v":6.7},{"s":42,"t":1140,"v":6.75},{"s":42,"t":1220,"v":6.6},{"s":42,"t":1300,"v":6.7},{"s":42,"t":1370,"v":6.65},{"s":42,"t":1440,"v":6.7},
{"s":43,"t":0,"v":0},{"s":43,"t":2,"v":7.1},{"s":43,"t":15,"v":6.3},{"s":43,"t":30,"v":7.6},{"s":43,"t":50,"v":6.9},{"s":43,"t":75,"v":6.3},{"s":43,"t":100,"v":6.7},{"s":43,"t":130,"v":6.9},{"s":43,"t":165,"v":6.5},{"s":43,"t":200,"v":6.7},{"s":43,"t":250,"v":6.6},{"s":43,"t":300,"v":6.8},{"s":43,"t":360,"v":6.55},{"s":43,"t":430,"v":6.7},{"s":43,"t":500,"v":6.6},{"s":43,"t":580,"v":6.75},{"s":43,"t":660,"v":6.55},{"s":43,"t":740,"v":6.65},{"s":43,"t":820,"v":6.5},{"s":43,"t":900,"v":6.6},{"s":43,"t":980,"v":6.55},{"s":43,"t":1060,"v":6.65},{"s":43,"t":1140,"v":6.5},{"s":43,"t":1220,"v":6.6},{"s":43,"t":1300,"v":6.55},{"s":43,"t":1370,"v":6.6},{"s":43,"t":1440,"v":6.55},
{"s":44,"t":0,"v":0},{"s":44,"t":2,"v":8.3},{"s":44,"t":15,"v":7.4},{"s":44,"t":30,"v":6.6},{"s":44,"t":50,"v":7.7},{"s":44,"t":75,"v":8.4},{"s":44,"t":100,"v":7.6},{"s":44,"t":130,"v":7.2},{"s":44,"t":165,"v":7.0},{"s":44,"t":200,"v":7.3},{"s":44,"t":250,"v":7.1},{"s":44,"t":300,"v":6.9},{"s":44,"t":360,"v":7.0},{"s":44,"t":430,"v":6.8},{"s":44,"t":500,"v":6.95},{"s":44,"t":580,"v":6.85},{"s":44,"t":660,"v":6.7},{"s":44,"t":740,"v":6.8},{"s":44,"t":820,"v":6.9},{"s":44,"t":900,"v":6.75},{"s":44,"t":980,"v":6.85},{"s":44,"t":1060,"v":6.7},{"s":44,"t":1140,"v":6.8},{"s":44,"t":1220,"v":6.7},{"s":44,"t":1300,"v":6.75},{"s":44,"t":1370,"v":6.7},{"s":44,"t":1440,"v":6.75},
{"s":45,"t":0,"v":0},{"s":45,"t":2,"v":5.7},{"s":45,"t":15,"v":5.0},{"s":45,"t":30,"v":6.2},{"s":45,"t":50,"v":5.6},{"s":45,"t":75,"v":5.4},{"s":45,"t":100,"v":5.8},{"s":45,"t":130,"v":6.3},{"s":45,"t":165,"v":6.1},{"s":45,"t":200,"v":6.4},{"s":45,"t":250,"v":6.2},{"s":45,"t":300,"v":6.3},{"s":45,"t":360,"v":6.15},{"s":45,"t":430,"v":6.3},{"s":45,"t":500,"v":6.2},{"s":45,"t":580,"v":6.35},{"s":45,"t":660,"v":6.25},{"s":45,"t":740,"v":6.4},{"s":45,"t":820,"v":6.3},{"s":45,"t":900,"v":6.4},{"s":45,"t":980,"v":6.3},{"s":45,"t":1060,"v":6.35},{"s":45,"t":1140,"v":6.45},{"s":45,"t":1220,"v":6.35},{"s":45,"t":1300,"v":6.4},{"s":45,"t":1370,"v":6.35},{"s":45,"t":1440,"v":6.4},
{"s":46,"t":0,"v":0},{"s":46,"t":2,"v":7.4},{"s":46,"t":15,"v":8.2},{"s":46,"t":30,"v":7.7},{"s":46,"t":50,"v":8.4},{"s":46,"t":75,"v":7.9},{"s":46,"t":100,"v":8.3},{"s":46,"t":130,"v":7.8},{"s":46,"t":165,"v":8.1},{"s":46,"t":200,"v":7.8},{"s":46,"t":250,"v":7.6},{"s":46,"t":300,"v":7.7},{"s":46,"t":360,"v":7.5},{"s":46,"t":430,"v":7.6},{"s":46,"t":500,"v":7.4},{"s":46,"t":580,"v":7.5},{"s":46,"t":660,"v":7.35},{"s":46,"t":740,"v":7.45},{"s":46,"t":820,"v":7.3},{"s":46,"t":900,"v":7.4},{"s":46,"t":980,"v":7.3},{"s":46,"t":1060,"v":7.4},{"s":46,"t":1140,"v":7.35},{"s":46,"t":1220,"v":7.45},{"s":46,"t":1300,"v":7.5},{"s":46,"t":1370,"v":7.55},{"s":46,"t":1440,"v":7.5},
{"s":47,"t":0,"v":0},{"s":47,"t":2,"v":6.7},{"s":47,"t":15,"v":7.4},{"s":47,"t":30,"v":8.0},{"s":47,"t":50,"v":7.3},{"s":47,"t":75,"v":6.9},{"s":47,"t":100,"v":7.5},{"s":47,"t":130,"v":7.0},{"s":47,"t":165,"v":7.3},{"s":47,"t":200,"v":6.9},{"s":47,"t":250,"v":7.1},{"s":47,"t":300,"v":6.8},{"s":47,"t":360,"v":6.95},{"s":47,"t":430,"v":6.75},{"s":47,"t":500,"v":6.9},{"s":47,"t":580,"v":6.8},{"s":47,"t":660,"v":6.7},{"s":47,"t":740,"v":6.85},{"s":47,"t":820,"v":6.75},{"s":47,"t":900,"v":6.9},{"s":47,"t":980,"v":6.8},{"s":47,"t":1060,"v":6.85},{"s":47,"t":1140,"v":6.75},{"s":47,"t":1220,"v":6.9},{"s":47,"t":1300,"v":6.8},{"s":47,"t":1370,"v":6.85},{"s":47,"t":1440,"v":6.85},
{"s":48,"t":0,"v":0},{"s":48,"t":2,"v":6.4},{"s":48,"t":15,"v":5.4},{"s":48,"t":30,"v":4.5},{"s":48,"t":50,"v":5.0},{"s":48,"t":75,"v":5.9},{"s":48,"t":100,"v":6.4},{"s":48,"t":130,"v":6.1},{"s":48,"t":165,"v":6.3},{"s":48,"t":200,"v":6.0},{"s":48,"t":250,"v":6.2},{"s":48,"t":300,"v":6.05},{"s":48,"t":360,"v":6.2},{"s":48,"t":430,"v":6.1},{"s":48,"t":500,"v":6.25},{"s":48,"t":580,"v":6.15},{"s":48,"t":660,"v":6.3},{"s":48,"t":740,"v":6.2},{"s":48,"t":820,"v":6.35},{"s":48,"t":900,"v":6.25},{"s":48,"t":980,"v":6.3},{"s":48,"t":1060,"v":6.2},{"s":48,"t":1140,"v":6.35},{"s":48,"t":1220,"v":6.3},{"s":48,"t":1300,"v":6.25},{"s":48,"t":1370,"v":6.3},{"s":48,"t":1440,"v":6.3},
{"s":49,"t":0,"v":0},{"s":49,"t":2,"v":5.3},{"s":49,"t":15,"v":8.4},{"s":49,"t":30,"v":8.8},{"s":49,"t":50,"v":8.1},{"s":49,"t":75,"v":8.6},{"s":49,"t":100,"v":8.2},{"s":49,"t":130,"v":8.7},{"s":49,"t":165,"v":8.3},{"s":49,"t":200,"v":8.0},{"s":49,"t":250,"v":8.2},{"s":49,"t":300,"v":7.9},{"s":49,"t":360,"v":7.7},{"s":49,"t":430,"v":7.8},{"s":49,"t":500,"v":7.55},{"s":49,"t":580,"v":7.6},{"s":49,"t":660,"v":7.45},{"s":49,"t":740,"v":7.55},{"s":49,"t":820,"v":7.4},{"s":49,"t":900,"v":7.5},{"s":49,"t":980,"v":7.35},{"s":49,"t":1060,"v":7.45},{"s":49,"t":1140,"v":7.4},{"s":49,"t":1220,"v":7.3},{"s":49,"t":1300,"v":7.4},{"s":49,"t":1370,"v":7.35},{"s":49,"t":1440,"v":7.3}
]},
"mark":{"type":"line","strokeWidth":2.4,"clip":true},
"encoding":{
"x":{"field":"t","type":"quantitative","scale":{"domain":[0,1445],"nice":false,"zero":false},"axis":{"title":"Simulation time（minute）","values":[0,100,200,300,400,500,600,700,800,900,1000,1100,1200,1300,1400],"labelExpr":"datum.value % 200 === 0 ? datum.label : ''","tickSize":{"condition":{"test":"datum.value % 200 === 0","value":-6},"value":-3},"labelPadding":12,"titleY":34,"titleBaseline":"middle"}},
"y":{"field":"v","type":"quantitative","scale":{"domain":[0,10],"nice":false},"axis":{"title":"Average speed of each ART（m/s）","titleFontSize":18,"values":[0,0.5,1,1.5,2,2.5,3,3.5,4,4.5,5,5.5,6,6.5,7,7.5,8,8.5,9,9.5,10],"labelExpr":"datum.value % 1 === 0 ? datum.label : ''","tickSize":{"condition":{"test":"datum.value % 1 === 0","value":-6},"value":-3},"labelPadding":14,"titleX":-39,"titleY":184,"titleAngle":-90,"titleBaseline":"middle"}},
"color":{"field":"s","type":"nominal","legend":null,"scale":{"range":["#17becf","#7b3b3b","#1f5fbf","#f07818","#2ca02c","#9ab82a","#22bbbb","#4daf4a","#1aa7a0","#d62728","#ff7f0e","#1f77b4","#9467bd","#8c564b","#7f7f7f","#e377c2","#f5861f","#d84040","#2b6fd0","#5cb82e","#444444","#a77bd8","#e07b20","#c9403a","#5a9fd0","#f08a30","#a9b530","#3aa845","#3fa3e0","#2060b0","#fa7a10","#e0453a","#6ab22e","#9a6fd0","#333333","#8b4a3a","#2450a8","#20b5c8","#8cc43c","#50b040","#23a9b8","#f26b1d","#dc3c3c","#3b75c9","#b07cd8","#1bbfcf","#b0b826","#8c564b","#5fbf3a"]}}
}}
